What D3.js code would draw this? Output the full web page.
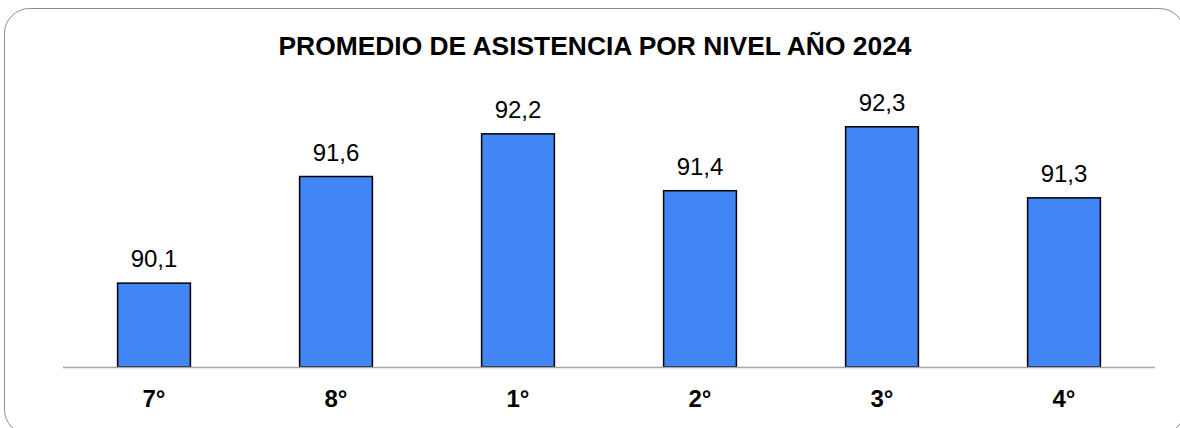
<!DOCTYPE html>
<html>
<head>
<meta charset="utf-8">
<script src="https://cdn.jsdelivr.net/npm/d3@7"></script>
<style>
  body { margin: 0; background: #fff; }
  text { font-family: "Liberation Sans", Arial, sans-serif; }
</style>
</head>
<body>
<script>
// data
const niveles = ['7°', '8°', '1°', '2°', '3°', '4°']
const asistencia = [90.1, 91.6, 92.2, 91.4, 92.3, 91.3]
const titulo = 'PROMEDIO DE ASISTENCIA POR NIVEL AÑO 2024'

const m = { width: 1180, height: 428 }
const plot = { left: 63, right: 1155, top: 77, bottom: 367 }

const svg = d3.select('body').append('svg')
    .attr('width', m.width)
    .attr('height', m.height)

// rounded frame, runs a little past the bottom/right edge like the original
svg.append('rect')
    .attr('x', 4.5)
    .attr('y', 8.5)
    .attr('width', 1180)
    .attr('height', 426)
    .attr('rx', 25)
    .attr('fill', 'white')
    .attr('stroke', '#8c8c8c')
    .attr('stroke-width', 1)

svg.append('text')
    .attr('x', 595)
    .attr('y', 55)
    .attr('text-anchor', 'middle')
    .attr('font-size', 26.4)
    .attr('font-weight', 'bold')
    .attr('fill', '#000')
    .text(titulo)

const xScale = d3.scaleBand()
    .domain(niveles)
    .range([plot.left, plot.right])
    .paddingInner(0.6)
    .paddingOuter(0.3)

const yScale = d3.scaleLinear()
    .domain([88.92, 93])
    .range([plot.bottom, plot.top])

const data = niveles.map(function (d, i) {
    return { nivel: d, valor: asistencia[i] }
})

const g = svg.append('g')

g.selectAll('.bar')
    .data(data)
    .enter()
    .append('rect')
    .attr('class', 'bar')
    .attr('x', function (d) { return xScale(d.nivel) })
    .attr('y', function (d) { return yScale(d.valor) })
    .attr('width', xScale.bandwidth())
    .attr('height', function (d) { return plot.bottom - yScale(d.valor) })
    .attr('fill', '#4285f4')
    .attr('stroke', 'black')
    .attr('stroke-width', 1.5)

// baseline
g.append('line')
    .attr('x1', plot.left)
    .attr('x2', plot.right)
    .attr('y1', plot.bottom + 0.5)
    .attr('y2', plot.bottom + 0.5)
    .attr('stroke', '#a6a6a6')
    .attr('stroke-width', 1.5)

g.selectAll('.valor')
    .data(data)
    .enter()
    .append('text')
    .attr('class', 'valor')
    .attr('x', function (d) { return xScale(d.nivel) + xScale.bandwidth() / 2 })
    .attr('y', function (d) { return yScale(d.valor) - 16 })
    .attr('text-anchor', 'middle')
    .attr('font-size', 24)
    .attr('fill', '#000')
    .text(function (d) { return String(d.valor).replace('.', ',') })

g.selectAll('.nivel')
    .data(data)
    .enter()
    .append('text')
    .attr('class', 'nivel')
    .attr('x', function (d) { return xScale(d.nivel) + xScale.bandwidth() / 2 })
    .attr('y', 407)
    .attr('text-anchor', 'middle')
    .attr('font-size', 24)
    .attr('font-weight', 'bold')
    .attr('fill', '#000')
    .text(function (d) { return d.nivel })
</script>
</body>
</html>
